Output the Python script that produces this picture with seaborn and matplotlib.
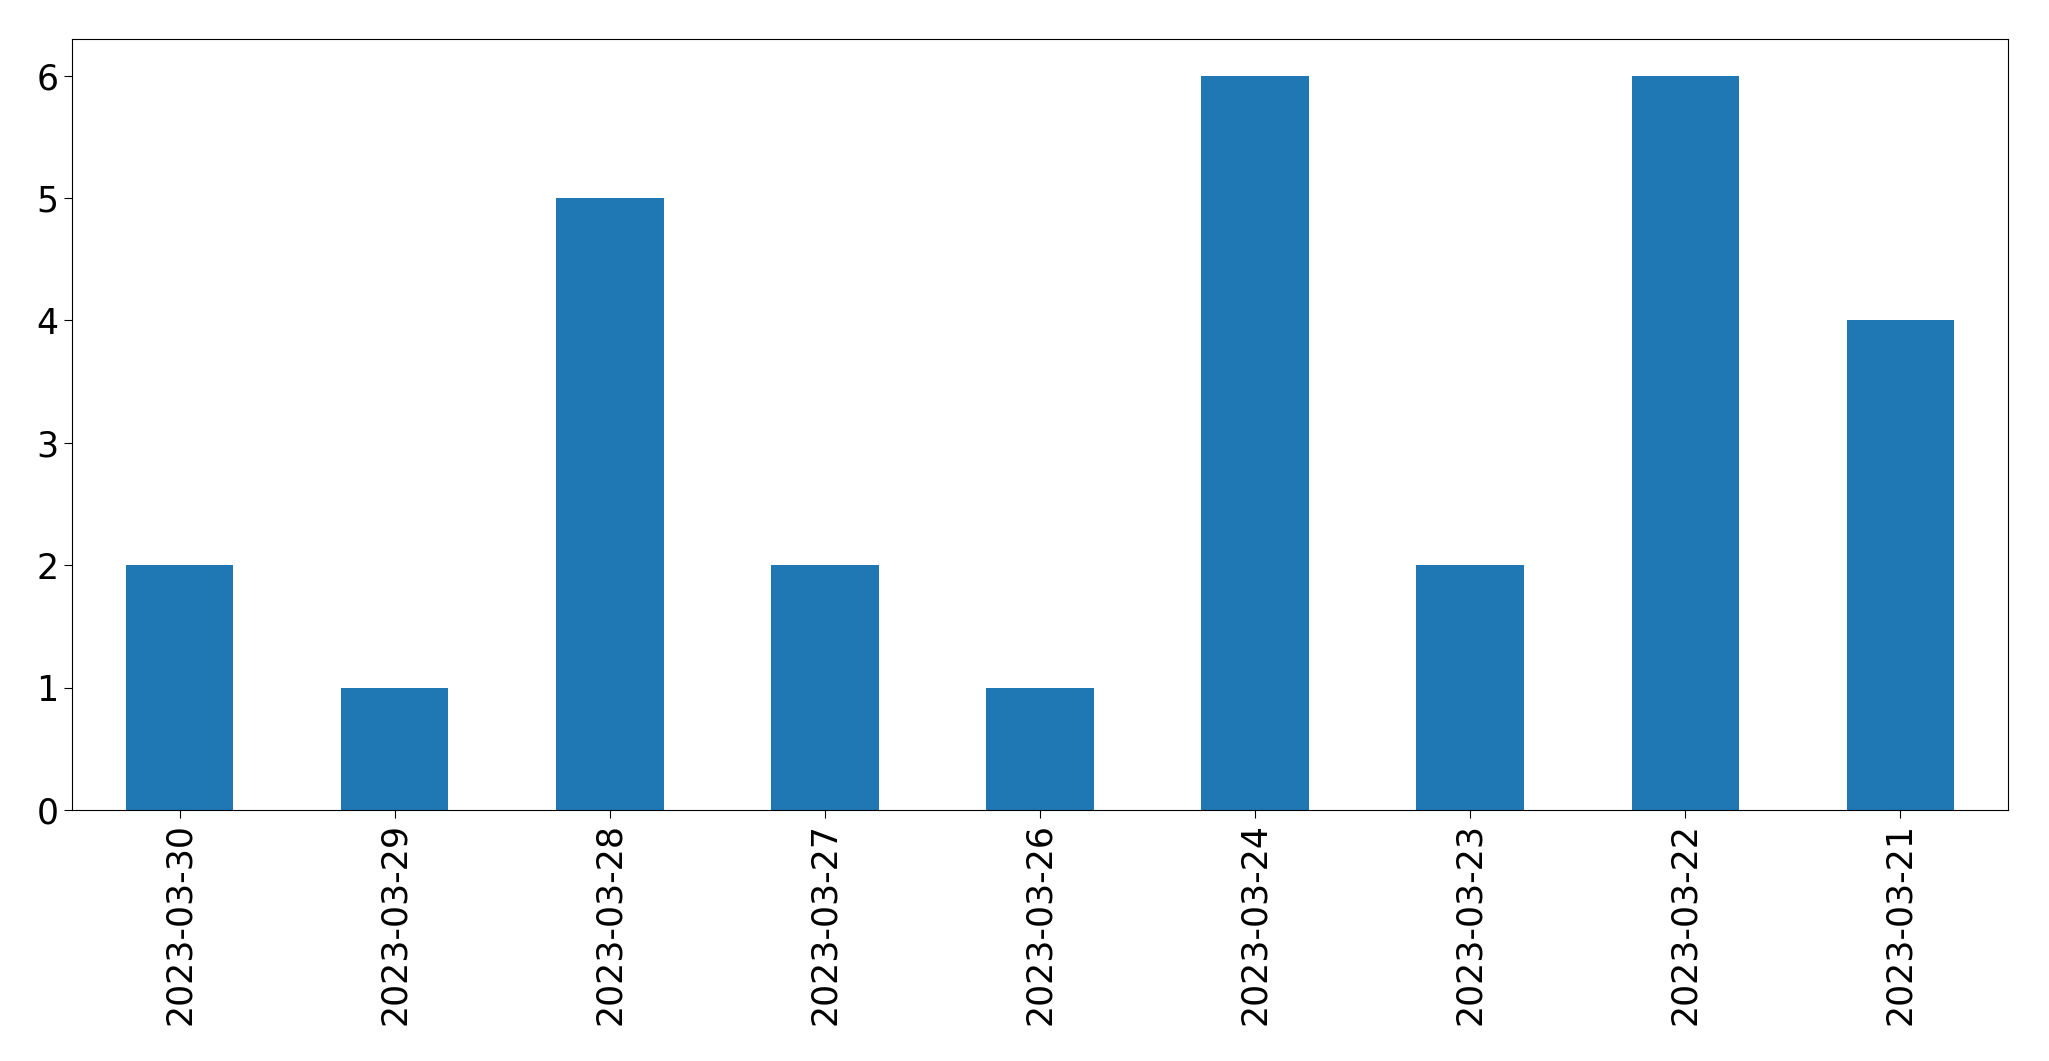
import pandas as pd
import matplotlib
matplotlib.use("Agg")
import matplotlib.pyplot as plt
import seaborn as sns

# counts per day, in the order they appear on the chart
dates = ["2023-03-30", "2023-03-29", "2023-03-28", "2023-03-27", "2023-03-26",
         "2023-03-24", "2023-03-23", "2023-03-22", "2023-03-21"]
counts = [2, 1, 5, 2, 1, 6, 2, 6, 4]

data = pd.DataFrame({"date": dates, "count": counts})

fig = plt.figure(figsize=(20.49, 10.61), dpi=100)
ax = fig.add_axes([72 / 2049, 1 - 810 / 1061, (2008 - 72) / 2049, (810 - 39) / 1061])

sns.barplot(x="date", y="count", data=data, ax=ax, color="#1f77b4",
            saturation=1, width=0.5, order=dates, linewidth=0)

ax.set_xlim(-0.5, len(dates) - 0.5)
ax.set_xlabel("")
ax.set_ylabel("")
ax.tick_params(axis="both", labelsize=25, length=6)
plt.setp(ax.get_xticklabels(), rotation=90)

fig.savefig("out.png", dpi=100)
